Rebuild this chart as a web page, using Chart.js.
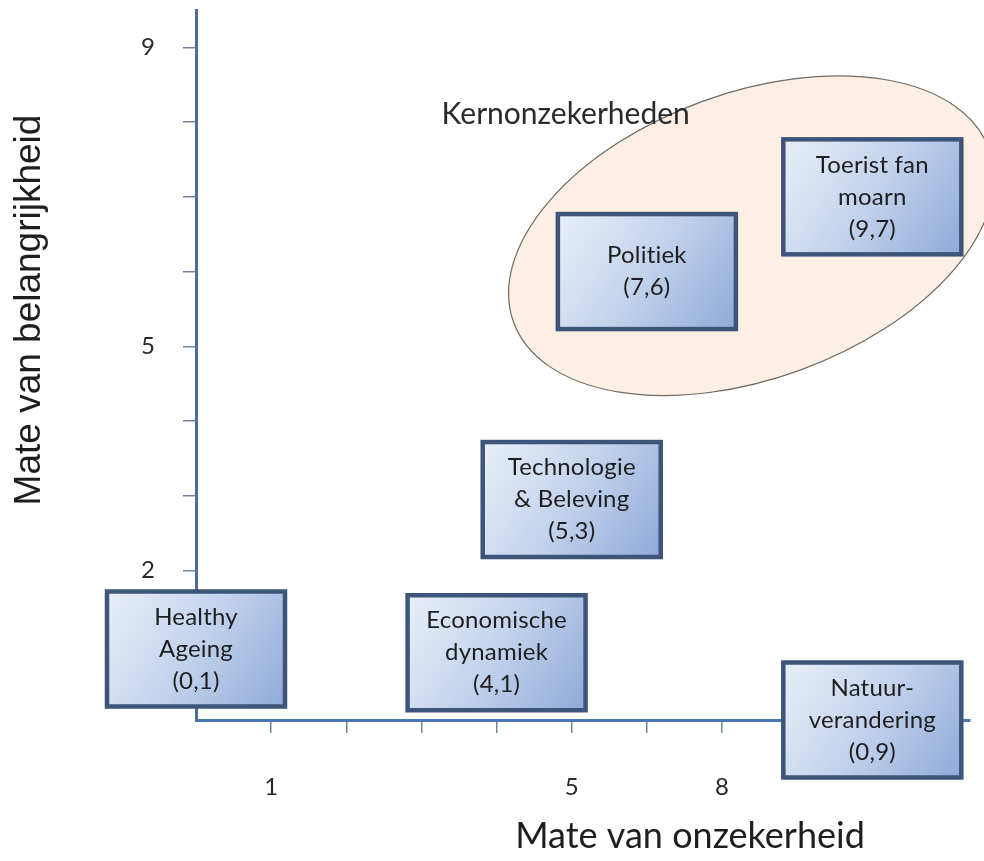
<!DOCTYPE html>
<html>
<head>
<meta charset="utf-8">
<script src="https://cdn.jsdelivr.net/npm/chart.js@4.4.1/dist/chart.umd.min.js"></script>
<style>
  html, body { margin: 0; padding: 0; background: #fff; }
  #wrap { width: 984px; height: 861px; }
</style>
</head>
<body>
<div id="wrap"><canvas id="matrix" width="984" height="861"></canvas></div>
<script>
// uncertainty / importance matrix
const factorLines = [
    ['Healthy', 'Ageing', '(0,1)'],
    ['Economische', 'dynamiek', '(4,1)'],
    ['Technologie', '& Beleving', '(5,3)'],
    ['Politiek', '(7,6)'],
    ['Toerist fan', 'moarn', '(9,7)'],
    ['Natuur-', 'verandering', '(0,9)']
];
const factorX = [0, 4, 5, 6, 9, 9];          // mate van onzekerheid (box centre)
const factorY = [0.95, 0.9, 2.95, 6, 7, 0];  // mate van belangrijkheid (box centre)

const xTickValues = [1, 2, 3, 4, 5, 6, 7, 8];
const xTickLabels = ['1', '', '', '', '5', '', '8', ''];
const yTickValues = [1, 2, 3, 4, 5, 6, 7, 8, 9];
const yTickLabels = ['', '2', '', '', '5', '', '', '', '9'];

const clusterLabel = 'Kernonzekerheden';
const clusterX = 7.39, clusterY = 6.48;   // ellipse centre
const clusterLabelX = 4.92, clusterLabelY = 7.98;

const xTitle = 'Mate van onzekerheid';
const yTitle = 'Mate van belangrijkheid';

const axisBlue = '#4a78b0';
const tickGrey = '#6f86a3';

function drawBox(ctx, cx, cy, lines) {
    const w = 178, h = 115;
    const l = cx - w / 2, t = cy - h / 2;
    let g = ctx.createLinearGradient(l, t, l + w, t + h);
    g.addColorStop(0, '#e9eff9');
    g.addColorStop(0.5, '#c2d2ec');
    g.addColorStop(1, '#8fa9d8');
    ctx.fillStyle = g;
    ctx.fillRect(l, t, w, h);
    ctx.lineWidth = 4.5;
    ctx.strokeStyle = '#3d5578';
    ctx.strokeRect(l, t, w, h);
    ctx.fillStyle = '#1e1e1e';
    ctx.font = '24px Lato';
    ctx.letterSpacing = '0.2px';  // keeps "ti" from turning into a ligature
    ctx.textAlign = 'center';
    ctx.textBaseline = 'middle';
    const lh = 32;
    lines.forEach((s, k) => {
        ctx.fillText(s, cx, cy + (k - (lines.length - 1) / 2) * lh);
    });
    ctx.letterSpacing = '0px';
}

const matrixPlugin = {
    id: 'matrixDecor',
    beforeDatasetsDraw(chart) {
        const ctx = chart.ctx;
        const xs = chart.scales.x, ys = chart.scales.y;
        ctx.save();
        ctx.beginPath();
        ctx.ellipse(xs.getPixelForValue(clusterX), ys.getPixelForValue(clusterY),
                    253, 143, -20 * Math.PI / 180, 0, 2 * Math.PI);
        ctx.fillStyle = '#fdefe4';
        ctx.fill();
        ctx.strokeStyle = '#6e6a66';
        ctx.lineWidth = 1.2;
        ctx.stroke();
        ctx.font = '30px Lato';
        ctx.fillStyle = '#2a2a2a';
        ctx.textAlign = 'center';
        ctx.textBaseline = 'alphabetic';
        ctx.fillText(clusterLabel, xs.getPixelForValue(clusterLabelX), ys.getPixelForValue(clusterLabelY));
        ctx.restore();
    },
    afterDatasetsDraw(chart) {
        const ctx = chart.ctx;
        ctx.save();
        chart.getDatasetMeta(0).data.forEach((pt, i) => {
            drawBox(ctx, pt.x, pt.y, factorLines[i]);
        });

        // axis titles
        ctx.fillStyle = '#1e1e1e';
        ctx.textAlign = 'center';
        ctx.textBaseline = 'alphabetic';
        ctx.font = '36px Lato';
        ctx.fillText(xTitle, 690, 848);

        ctx.translate(40, 310);
        ctx.rotate(-Math.PI / 2);
        ctx.font = '37px "Liberation Sans"';
        ctx.fillText(yTitle, 0, 0);
        ctx.restore();
    }
};

new Chart(document.getElementById('matrix').getContext('2d'), {
    type: 'scatter',
    data: {
        datasets: [{
            label: 'Factoren',
            data: factorX.map((x, i) => ({ x: x, y: factorY[i] })),
            pointRadius: 0,
            pointHoverRadius: 0
        }]
    },
    options: {
        responsive: false,
        animation: false,
        layout: { autoPadding: false, padding: { top: 10, right: 14, left: 0, bottom: 0 } },
        plugins: {
            legend: { display: false },
            tooltip: { enabled: false }
        },
        scales: {
            x: {
                type: 'linear',
                min: 0,
                max: 10.3,
                afterFit: s => { s.height = 141; s.paddingLeft = 0; s.paddingRight = 0; },
                afterBuildTicks: s => { s.ticks = xTickValues.map(v => ({ value: v })); },
                ticks: {
                    callback: (v, i) => xTickLabels[i],
                    padding: 40,
                    autoSkip: false,
                    maxRotation: 0,
                    color: '#2a2a2a',
                    font: { family: 'Lato', size: 24 }
                },
                grid: { drawOnChartArea: false, drawTicks: true, tickLength: 13, color: tickGrey, lineWidth: 1.5 },
                border: { display: true, color: axisBlue, width: 3 }
            },
            y: {
                type: 'linear',
                min: 0,
                max: 9.5,
                afterFit: s => { s.width = 196; s.paddingTop = 0; s.paddingBottom = 0; },
                afterBuildTicks: s => { s.ticks = yTickValues.map(v => ({ value: v })); },
                ticks: {
                    callback: (v, i) => yTickLabels[i],
                    padding: 28,
                    autoSkip: false,
                    color: '#2a2a2a',
                    font: { family: 'Lato', size: 24 }
                },
                grid: { drawOnChartArea: false, drawTicks: true, tickLength: 13, color: tickGrey, lineWidth: 1.5 },
                border: { display: true, color: '#4f6e92', width: 3 }
            }
        }
    },
    plugins: [matrixPlugin]
});
</script>
</body>
</html>
